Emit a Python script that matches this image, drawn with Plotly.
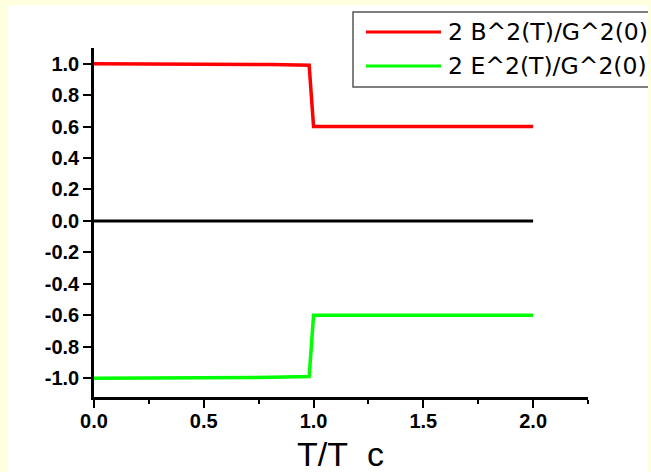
import plotly.graph_objects as go

# ---- data ----
t_over_tc = [0.0, 0.59, 0.81, 0.98, 1.0, 1.5, 2.0]
b_ratio = [1.0, 0.998, 0.995, 0.99, 0.6, 0.6, 0.6]
e_ratio = [-1.0, -0.998, -0.995, -0.99, -0.6, -0.6, -0.6]
zero_x = [0.0, 2.0]
zero_y = [0.0, 0.0]
series_names = ["2 B^2(T)/G^2(0)", "2 E^2(T)/G^2(0)"]
series_colors = ["#ff0000", "#00ff00"]
x_tickvals = [0.0, 0.5, 1.0, 1.5, 2.0]
x_ticktext = ["0.0", "0.5", "1.0", "1.5", "2.0"]
y_tickvals = [1.0, 0.8, 0.6, 0.4, 0.2, 0.0, -0.2, -0.4, -0.6, -0.8, -1.0]
y_ticktext = ["1.0", "0.8", "0.6", "0.4", "0.2", "0.0", "-0.2", "-0.4", "-0.6", "-0.8", "-1.0"]
x_title = "T/T\u00a0\u00a0c"

W, H = 651, 472
L, R, T, B = 94, 63, 48, 75
PW, PH = W - L - R, H - T - B


def px(x):
    return (x - L) / PW


def py(y):
    return (H - B - y) / PH


fig = go.Figure()
fig.add_trace(go.Scatter(x=zero_x, y=zero_y, mode="lines",
                         line=dict(color="black", width=3), showlegend=False))
fig.add_trace(go.Scatter(x=t_over_tc, y=b_ratio, mode="lines", name=series_names[0],
                         line=dict(color=series_colors[0], width=3.5), showlegend=False))
fig.add_trace(go.Scatter(x=t_over_tc, y=e_ratio, mode="lines", name=series_names[1],
                         line=dict(color=series_colors[1], width=3.5), showlegend=False))

yellow = "#ffffe0"
shapes = [
    # legend box
    dict(type="rect", xref="paper", yref="paper", x0=px(353), x1=px(670), y0=py(87), y1=py(12),
         line=dict(color="#555555", width=1.5), fillcolor="rgba(0,0,0,0)", layer="above"),
    # legend samples
    dict(type="line", xref="paper", yref="paper", x0=px(366), x1=px(441), y0=py(32), y1=py(32),
         line=dict(color=series_colors[0], width=3), layer="above"),
    dict(type="line", xref="paper", yref="paper", x0=px(366), x1=px(441), y0=py(66), y1=py(66),
         line=dict(color=series_colors[1], width=3), layer="above"),
    # yellow frame
    dict(type="rect", xref="paper", yref="paper", x0=px(-5), x1=px(8), y0=py(480), y1=py(-5),
         line=dict(width=0), fillcolor=yellow, layer="above"),
    dict(type="rect", xref="paper", yref="paper", x0=px(648), x1=px(660), y0=py(480), y1=py(-5),
         line=dict(width=0), fillcolor=yellow, layer="above"),
    dict(type="rect", xref="paper", yref="paper", x0=px(-5), x1=px(660), y0=py(5), y1=py(-5),
         line=dict(width=0), fillcolor=yellow, layer="above"),
]

legend_font = dict(family="DejaVu Sans", size=23.5, color="black")
annotations = [
    dict(text=series_names[0], xref="paper", yref="paper", x=px(446), y=py(32),
         xanchor="left", yanchor="middle", showarrow=False, font=legend_font),
    dict(text=series_names[1], xref="paper", yref="paper", x=px(446), y=py(66),
         xanchor="left", yanchor="middle", showarrow=False, font=legend_font),
    dict(text=x_title, xref="paper", yref="paper", x=px(340), y=py(454),
         xanchor="center", yanchor="middle", showarrow=False,
         font=dict(family="Liberation Sans", size=34, color="black")),
]

tick_font = dict(family="Liberation Sans", size=20, color="black", weight="bold")

fig.update_layout(
    width=W, height=H,
    margin=dict(l=L, r=R, t=T, b=B, pad=0),
    paper_bgcolor="white", plot_bgcolor="white",
    shapes=shapes, annotations=annotations,
    showlegend=False,
)
fig.update_xaxes(
    range=[0, 2.25], showgrid=False, zeroline=False,
    showline=True, linecolor="black", linewidth=2.5,
    ticks="outside", ticklen=8, tickwidth=2, tickcolor="black",
    tickvals=x_tickvals, ticktext=["<b>%s</b>" % t for t in x_ticktext],
    tickfont=tick_font, ticklabelstandoff=-4,
    minor=dict(ticks="outside", ticklen=4, tickwidth=2, tickcolor="black", dtick=0.25, tick0=0, showgrid=False),
)
fig.update_yaxes(
    range=[-1.12, 1.10], showgrid=False, zeroline=False,
    showline=True, linecolor="black", linewidth=2.5,
    ticks="outside", ticklen=8, tickwidth=2, tickcolor="black",
    tickvals=y_tickvals, ticktext=["<b>%s</b>" % t for t in y_ticktext],
    tickfont=tick_font,
)

fig.write_html("out.html")
